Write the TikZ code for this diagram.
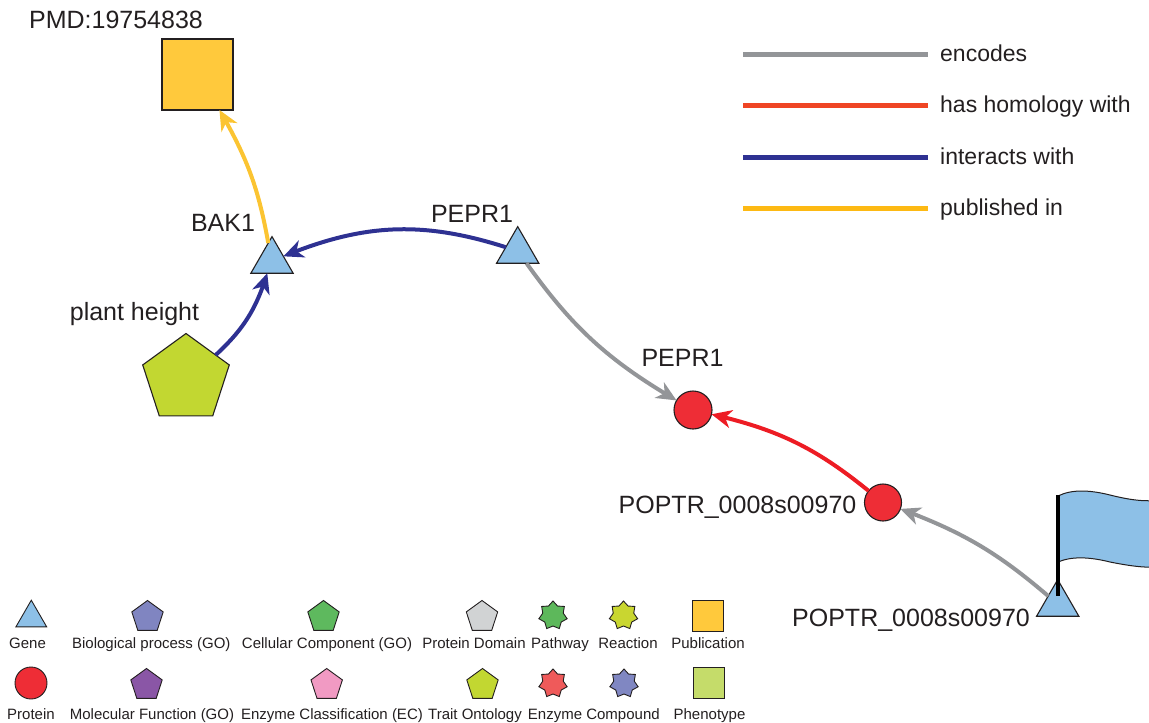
\documentclass[tikz,border=0pt]{standalone}
\usepackage{fontspec}
\setmainfont{Liberation Sans}
\usetikzlibrary{shapes.geometric,arrows.meta,bending}
\definecolor{outl}{HTML}{231F20}
\definecolor{txt}{HTML}{231F20}
\definecolor{genefill}{HTML}{8DC0E7}
\definecolor{protfill}{HTML}{EE2D36}
\definecolor{pubfill}{HTML}{FFC93C}
\definecolor{phenofill}{HTML}{C5DC6A}
\definecolor{traitfill}{HTML}{C2D731}
\definecolor{biofill}{HTML}{8085C1}
\definecolor{cellfill}{HTML}{5EB95E}
\definecolor{pdomfill}{HTML}{D1D3D4}
\definecolor{molfill}{HTML}{8A56A6}
\definecolor{ecfill}{HTML}{F19AC3}
\definecolor{pathfill}{HTML}{5DB85B}
\definecolor{reacfill}{HTML}{C9D630}
\definecolor{enzfill}{HTML}{EF5A5A}
\definecolor{compfill}{HTML}{8087C2}
\definecolor{egray}{HTML}{939598}
\definecolor{ered}{HTML}{ED1C24}
\definecolor{eblue}{HTML}{2E3192}
\definecolor{eyel}{HTML}{FBC432}
\definecolor{lred}{HTML}{EF4524}
\definecolor{lyel}{HTML}{FDB913}
\begin{document}
\begin{tikzpicture}[x=1pt,y=1pt,
  shp/.style={draw=outl, line width=1.1pt, inner sep=0pt, outer sep=0pt},
  genenode/.style={shp, regular polygon, regular polygon sides=3, minimum size=48.8pt, fill=genefill},
  protnode/.style={shp, circle, minimum size=38pt, fill=protfill},
  lgene/.style={shp, line width=0.9pt, regular polygon, regular polygon sides=3, minimum size=35.6pt, fill=genefill},
  lpent/.style={shp, line width=0.9pt, regular polygon, regular polygon sides=5, minimum size=33pt},
  lstar/.style={shp, line width=0.9pt, star, star points=7, star point ratio=1.38, minimum size=29pt},
  lsq/.style={shp, line width=0.9pt, rectangle, minimum size=31pt},
  lbl/.style={font=\fontsize{25}{30}\selectfont, text=txt, inner sep=0pt, anchor=base},
  llbl/.style={font=\fontsize{15}{18}\selectfont, text=txt, inner sep=0pt, anchor=base},
  rlbl/.style={font=\fontsize{23}{28}\selectfont, text=txt, inner sep=0pt, anchor=base west},
  link/.style={line width=4pt, -{Stealth[length=20pt,width=18pt,inset=6pt]}},
  legline/.style={line width=5pt}
]
\useasboundingbox (0,0) rectangle (1149,-723);

% main nodes
\node[shp, rectangle, minimum size=71pt, fill=pubfill] (pmd) at (197.5,-74.5) {};
\node[genenode] (bak1) at (272,-261) {};
\node[genenode] (pepr1g) at (517.7,-251) {};
\node[shp, regular polygon, regular polygon sides=5, minimum size=91pt, fill=traitfill] (ph) at (186,-379) {};
\node[protnode] (pepr1p) at (693,-410) {};
\node[protnode, minimum size=37pt] (poptrp) at (883,-502.5) {};
\node[genenode] (poptrg) at (1057.7,-604) {};

% flag marker
\draw[outl, line width=1pt, fill=genefill] (1058,-496) .. controls (1072,-489) and (1090,-490) .. (1110,-495)
  .. controls (1130,-500) and (1145,-502) .. (1160,-500) -- (1160,-567)
  .. controls (1145,-568) and (1130,-566) .. (1110,-562)
  .. controls (1090,-557) and (1072,-556) .. (1058,-562) -- cycle;
\draw[black, line width=3.5pt] (1058,-495) -- (1058,-596);

% node labels
\node[lbl] (lpmd) at (116,-28.3) {PMD:19754838};
\node[lbl] (lbak) at (223,-231) {BAK1};
\node[lbl] (lpg) at (472,-222) {PEPR1};
\node[lbl] (lph) at (134.5,-320.7) {plant height};
\node[lbl] (lpp) at (682.5,-366.5) {PEPR1};
\node[lbl] (lpop) at (737.5,-513.3) {POPTR\_0008s00970};
\node[lbl] (lpog) at (911,-626.7) {POPTR\_0008s00970};

% edges
\draw[link, eblue] (pepr1g) to[bend right=20] (bak1);
\draw[link, eyel] (bak1) to[bend right=10] (pmd);
\draw[link, eblue] (ph) to[bend right=15] (bak1);
\draw[link, egray] (pepr1g) to[bend right=12] (pepr1p);
\draw[link, ered] (poptrp) to[bend right=13] (pepr1p);
\draw[link, egray] (poptrg) to[bend right=10] (poptrp);

% edge legend
\coordinate (l1a) at (743,-54.3); \coordinate (l1b) at (928,-54.3);
\coordinate (l2a) at (743,-105.7); \coordinate (l2b) at (928,-105.7);
\coordinate (l3a) at (743,-157.3); \coordinate (l3b) at (928,-157.3);
\coordinate (l4a) at (743,-208.3); \coordinate (l4b) at (928,-208.3);
\draw[legline, egray] (l1a) -- (l1b);
\draw[legline, lred] (l2a) -- (l2b);
\draw[legline, eblue] (l3a) -- (l3b);
\draw[legline, lyel] (l4a) -- (l4b);
\node[rlbl] (t1) at (940,-61.7) {encodes};
\node[rlbl] (t2) at (940,-112.7) {has homology with};
\node[rlbl] (t3) at (940,-164.3) {interacts with};
\node[rlbl] (t4) at (940,-215) {published in};

% node legend row 1
\node[lgene] (ig) at (31.3,-618) {};
\node[lpent, fill=biofill] (ib) at (147.5,-617) {};
\node[lpent, fill=cellfill] (ic) at (323.5,-617) {};
\node[lpent, fill=pdomfill] (id) at (482,-617) {};
\node[lstar, fill=pathfill] (ipw) at (553,-615.5) {};
\node[lstar, fill=reacfill] (ir) at (623.5,-615.5) {};
\node[lsq, fill=pubfill] (ipub) at (707.5,-616) {};
\node[llbl] at (27.5,-648.3) {Gene};
\node[llbl] at (151.3,-648.3) {Biological process (GO)};
\node[llbl] at (327,-648.3) {Cellular Component (GO)};
\node[llbl] at (474,-648.3) {Protein Domain};
\node[llbl] at (560,-648.3) {Pathway};
\node[llbl] at (628,-648.3) {Reaction};
\node[llbl] at (708,-648.3) {Publication};

% node legend row 2
\node[shp, line width=0.9pt, circle, minimum size=32pt, fill=protfill] (ip) at (31,-683) {};
\node[lpent, fill=molfill] (im) at (146.5,-685) {};
\node[lpent, fill=ecfill] (ie) at (326.7,-685) {};
\node[lpent, fill=traitfill] (it) at (482.5,-685) {};
\node[lstar, fill=enzfill] (iz) at (553,-683.5) {};
\node[lstar, fill=compfill] (ico) at (624,-683.5) {};
\node[lsq, fill=phenofill] (iph) at (708.5,-682.5) {};
\node[llbl] at (31,-719.3) {Protein};
\node[llbl] at (152,-719.3) {Molecular Function (GO)};
\node[llbl] at (332,-719.3) {Enzyme Classification (EC)};
\node[llbl] at (475,-719.3) {Trait Ontology};
\node[llbl] at (555,-719.3) {Enzyme};
\node[llbl] at (623,-719.3) {Compound};
\node[llbl] at (709.5,-719.3) {Phenotype};
\end{tikzpicture}
\end{document}
